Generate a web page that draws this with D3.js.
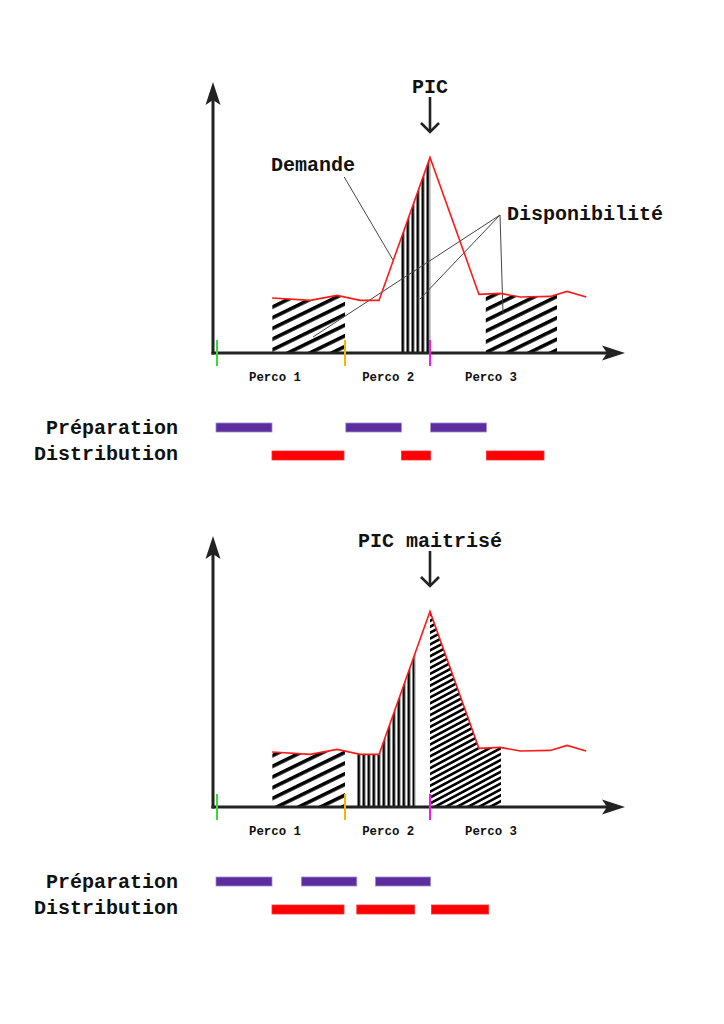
<!DOCTYPE html>
<html>
<head>
<meta charset="utf-8">
<script src="https://cdn.jsdelivr.net/npm/d3@7"></script>
<style>
  body { margin: 0; background: #fff; }
  text { font-family: "Liberation Mono", monospace; font-weight: bold; fill: #111; }
</style>
</head>
<body>
<div id="chart"></div>
<script>
// demand curve (time, load) - same on both panels
const demand = [
    [14.8, 27.5], [24.3, 26.3], [31, 28.8], [36.8, 26.3], [41.5, 26.3],
    [54.25, 97.8], [66.5, 29.3], [71.8, 29.8], [76.8, 28], [84.3, 28.3],
    [88.5, 30.8], [93.3, 28]
];

const percoLabels = ["Perco 1", "Perco 2", "Perco 3"];
const percoCenters = [15.5, 43.8, 69.5];
const percoTicks = [1, 33, 54.25];

const rowLabels = ["Préparation", "Distribution"];

// top panel : peak not handled
const dispoTop = [[14.8, 33], [47, 54.25], [68.2, 86]];
const prepTop = [[0.75, 14.75], [33.2, 47.1], [54.4, 68.35]];
const distTop = [[14.75, 32.75], [47.1, 54.4], [68.35, 82.75]];

// bottom panel : peak handled
const dispoBottom = [[14.8, 33], [36, 50.5], [54.25, 72]];
const prepBottom = [[0.75, 14.75], [22.1, 35.95], [40.6, 54.4]];
const distBottom = [[14.75, 32.75], [35.95, 50.4], [54.6, 68.9]];

const width = 724, height = 1024;
const tickColors = ["#33dd33", "#f7b500", "#f01ed8"];

const svg = d3.select("#chart").append("svg")
    .attr("width", width)
    .attr("height", height);

const defs = svg.append("defs");

function diagPattern(id, period, thick, angle) {
    let p = defs.append("pattern")
        .attr("id", id)
        .attr("patternUnits", "userSpaceOnUse")
        .attr("width", 40)
        .attr("height", period)
        .attr("patternTransform", `rotate(${angle})`);
    p.append("rect")
        .attr("x", 0).attr("y", 0)
        .attr("width", 40).attr("height", thick)
        .attr("fill", "#000");
}

function vertPattern(id, x0, period, thick) {
    let p = defs.append("pattern")
        .attr("id", id)
        .attr("patternUnits", "userSpaceOnUse")
        .attr("x", x0)
        .attr("width", period)
        .attr("height", 10);
    p.append("rect")
        .attr("x", 0).attr("y", 0)
        .attr("width", thick).attr("height", 10)
        .attr("fill", "#000");
}

diagPattern("diag", 9.6, 3.6, -26);
diagPattern("dense", 5.2, 2.6, -28);

const x = d3.scaleLinear().domain([0, 103]).range([213, 625]);

function drawArrowHead(g, tip, dir) {
    // dir: "up" or "right"
    let pts;
    if (dir == "up") {
        pts = [[tip[0], tip[1]], [tip[0] + 7.5, tip[1] + 23], [tip[0], tip[1] + 18], [tip[0] - 7.5, tip[1] + 23]];
    } else {
        pts = [[tip[0], tip[1]], [tip[0] - 23, tip[1] + 7.5], [tip[0] - 18, tip[1]], [tip[0] - 23, tip[1] - 7.5]];
    }
    g.append("path")
        .attr("d", d3.line()(pts) + "Z")
        .attr("fill", "#222");
}

function drawPanel(idx, axisY, cfg) {
    const g = svg.append("g");
    const y = d3.scaleLinear().domain([0, 135]).range([axisY, axisY - 270]);

    // clip : everything under the demand curve
    const area = d3.area()
        .x(d => x(d[0]))
        .y0(axisY)
        .y1(d => y(d[1]));
    defs.append("clipPath")
        .attr("id", "under" + idx)
        .append("path")
        .attr("d", area(demand));

    cfg.dispo.forEach((r, i) => {
        let fill = cfg.fills[i];
        let id = fill;
        if (fill == "vert") {
            id = "vert" + idx;
            vertPattern(id, x(r[0]) + 0.5, 5, 2.6);
        }
        g.append("rect")
            .attr("x", x(r[0]))
            .attr("y", y(135))
            .attr("width", x(r[1]) - x(r[0]))
            .attr("height", axisY - y(135))
            .attr("fill", `url(#${id})`)
            .attr("clip-path", `url(#under${idx})`);
        if (fill == "vert") {
            g.append("line")
                .attr("x1", x(r[1])).attr("x2", x(r[1]))
                .attr("y1", y(135)).attr("y2", axisY)
                .attr("stroke", "#aaa")
                .attr("stroke-width", 1.2)
                .attr("clip-path", `url(#under${idx})`);
        }
    });

    // leader lines
    (cfg.leaders || []).forEach(l => {
        g.append("line")
            .attr("x1", x(l[0][0])).attr("y1", y(l[0][1]))
            .attr("x2", x(l[1][0])).attr("y2", y(l[1][1]))
            .attr("stroke", "#444")
            .attr("stroke-width", 1);
    });

    // demand line
    g.append("path")
        .datum(demand)
        .attr("d", d3.line().x(d => x(d[0])).y(d => y(d[1])))
        .attr("fill", "none")
        .attr("stroke", "#ff1a1a")
        .attr("stroke-width", 1.6);

    // axes
    g.append("line")
        .attr("x1", x(0)).attr("x2", x(0))
        .attr("y1", axisY + 1.5).attr("y2", axisY - 260)
        .attr("stroke", "#222").attr("stroke-width", 3);
    g.append("line")
        .attr("x1", x(0) - 1.5).attr("x2", 610)
        .attr("y1", axisY).attr("y2", axisY)
        .attr("stroke", "#222").attr("stroke-width", 3);
    drawArrowHead(g, [x(0), axisY - 271], "up");
    drawArrowHead(g, [625, axisY], "right");

    // coloured ticks
    percoTicks.forEach((t, i) => {
        g.append("line")
            .attr("x1", x(t)).attr("x2", x(t))
            .attr("y1", axisY - 13).attr("y2", axisY + 13)
            .attr("stroke", tickColors[i])
            .attr("stroke-width", 2);
    });

    percoLabels.forEach((lab, i) => {
        g.append("text")
            .attr("x", x(percoCenters[i]))
            .attr("y", axisY + 28)
            .attr("text-anchor", "middle")
            .attr("font-size", 12.4)
            .text(lab);
    });

    // peak annotation
    g.append("text")
        .attr("x", x(54.25))
        .attr("y", axisY - 260)
        .attr("text-anchor", "middle")
        .attr("font-size", 20)
        .text(cfg.peakLabel);
    g.append("line")
        .attr("x1", x(54.25)).attr("x2", x(54.25))
        .attr("y1", axisY - 256).attr("y2", axisY - 221)
        .attr("stroke", "#222").attr("stroke-width", 2.6);
    g.append("path")
        .attr("d", d3.line()([[x(54.25) - 9, axisY - 230], [x(54.25), axisY - 221], [x(54.25) + 9, axisY - 230]]))
        .attr("fill", "none")
        .attr("stroke", "#222").attr("stroke-width", 2.6);

    (cfg.labels || []).forEach(l => {
        g.append("text")
            .attr("x", x(l.at[0]))
            .attr("y", y(l.at[1]))
            .attr("font-size", 20)
            .text(l.text);
    });

    // preparation / distribution bars
    const rows = [cfg.prep, cfg.dist];
    const rowTop = [axisY + 70, axisY + 98];
    const rowFill = ["#5b2d9e", "#ff0000"];
    const rowStroke = ["#a48ad0", "#ff3030"];
    rows.forEach((row, ri) => {
        g.append("text")
            .attr("x", 178)
            .attr("y", rowTop[ri] + 10.5 - (ri == 1 ? 2 : 0))
            .attr("text-anchor", "end")
            .attr("font-size", 20)
            .text(rowLabels[ri]);
        g.selectAll(null)
            .data(row)
            .enter().append("rect")
            .attr("x", d => x(d[0]))
            .attr("y", rowTop[ri])
            .attr("width", d => x(d[1]) - x(d[0]))
            .attr("height", 9)
            .attr("fill", rowFill[ri])
            .attr("stroke", rowStroke[ri])
            .attr("stroke-width", 0.8);
    });
}

drawPanel(0, 353, {
    dispo: dispoTop,
    fills: ["diag", "vert", "diag"],
    prep: prepTop,
    dist: distTop,
    peakLabel: "PIC",
    labels: [
        { text: "Demande", at: [14.5, 91] },
        { text: "Disponibilité", at: [73.5, 66.5] }
    ],
    leaders: [
        [[32.8, 88], [45, 46.5]],
        [[71.75, 69], [25, 8]],
        [[71.75, 69], [51.75, 27]],
        [[71.75, 69], [72.5, 20]]
    ]
});

drawPanel(1, 807, {
    dispo: dispoBottom,
    fills: ["diag", "vert", "dense"],
    prep: prepBottom,
    dist: distBottom,
    peakLabel: "PIC maitrisé"
});
</script>
</body>
</html>
